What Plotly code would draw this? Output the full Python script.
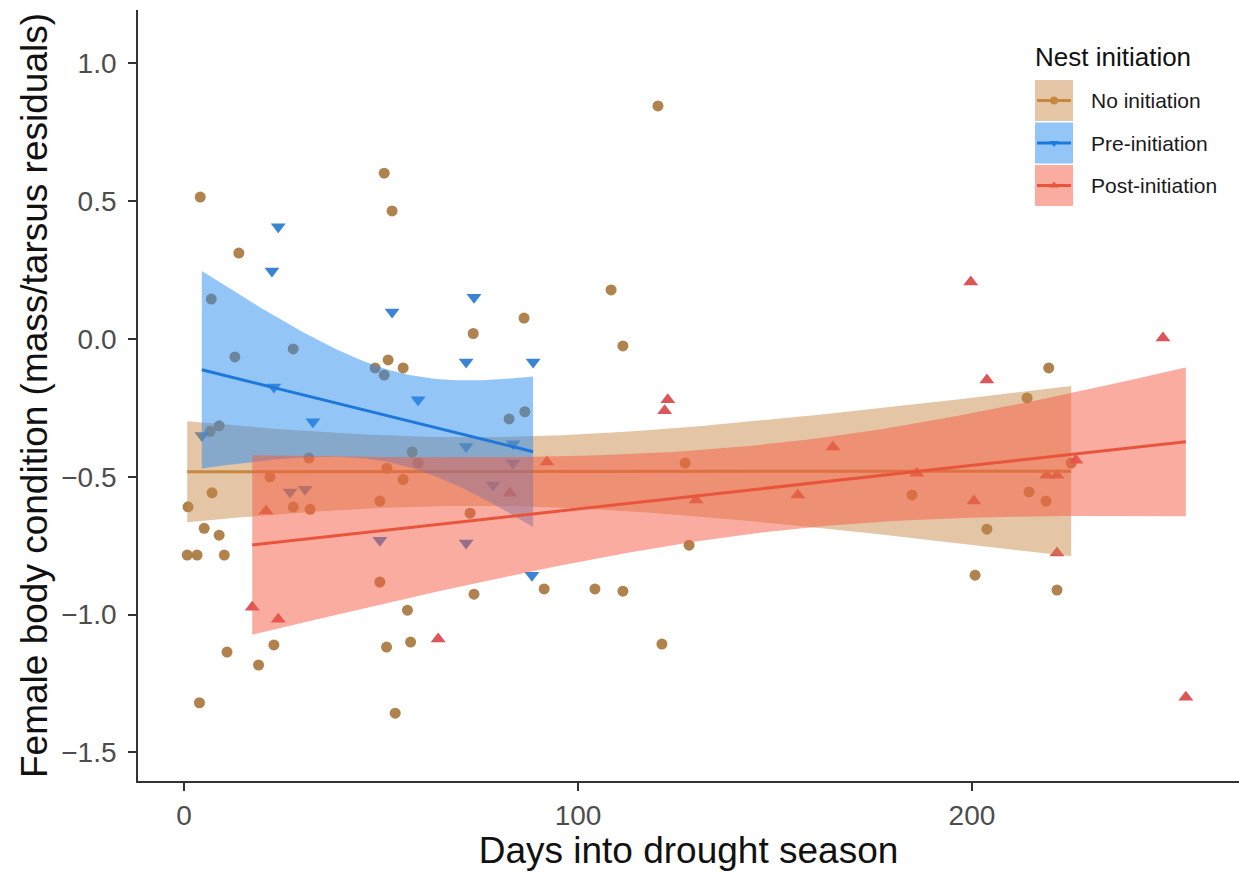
import numpy as np
import plotly.graph_objects as go

# ---------------- data ----------------
group_names = ["No initiation", "Pre-initiation", "Post-initiation"]

no_x = [120.3, 4.1, 13.9, 50.8, 52.8, 6.9, 12.9, 27.7, 48.5, 51.8, 55.6, 50.8, 73.4, 108.4,
        111.4, 86.3, 82.5, 86.5, 57.9, 59.4, 6.6, 8.9, 31.7, 21.8, 51.5, 55.6, 7.1, 1.0,
        27.7, 32.0, 49.7, 5.1, 8.9, 0.8, 3.3, 10.2, 49.7, 56.7, 10.9, 18.9, 22.8, 51.4,
        57.5, 3.9, 53.6, 72.6, 73.6, 91.4, 104.3, 111.4, 121.3, 127.2, 128.2, 219.5,
        214.0, 184.8, 203.8, 214.5, 218.8, 200.8, 221.6, 225.2]
no_y = [0.846, 0.515, 0.312, 0.602, 0.465, 0.145, -0.065, -0.036, -0.105, -0.076, -0.105,
        -0.131, 0.02, 0.178, -0.025, 0.076, -0.29, -0.264, -0.41, -0.45, -0.335, -0.315,
        -0.432, -0.50, -0.469, -0.51, -0.558, -0.609, -0.61, -0.618, -0.588, -0.687, -0.712,
        -0.784, -0.784, -0.784, -0.882, -0.984, -1.136, -1.183, -1.11, -1.118, -1.10, -1.32,
        -1.358, -0.632, -0.926, -0.907, -0.907, -0.915, -1.107, -0.45, -0.748, -0.105,
        -0.214, -0.566, -0.69, -0.555, -0.588, -0.857, -0.911, -0.45]

pre_x = [4.5, 23.9, 22.3, 52.8, 22.8, 32.7, 59.4, 73.6, 71.6, 88.6, 26.9, 30.7, 49.7, 78.4,
         83.5, 71.6, 71.6, 83.5, 88.3]
pre_y = [-0.35, 0.407, 0.247, 0.098, -0.174, -0.30, -0.22, 0.152, -0.083, -0.083, -0.555,
         -0.545, -0.73, -0.53, -0.45, -0.74, -0.39, -0.38, -0.857]

post_x = [17.3, 23.9, 20.8, 92.1, 64.5, 130.0, 155.8, 122.8, 122.0, 82.7, 199.7, 248.5,
          203.8, 164.7, 186.0, 200.5, 219.0, 221.6, 226.4, 221.6, 254.3]
post_y = [-0.973, -1.017, -0.624, -0.446, -1.089, -0.584, -0.566, -0.22, -0.26, -0.56, 0.207,
          0.004, -0.149, -0.392, -0.487, -0.588, -0.494, -0.494, -0.44, -0.777, -1.30]

x_ticks = [0, 100, 200]
y_ticks = [-1.5, -1.0, -0.5, 0.0, 0.5, 1.0]

# ---------------- styles ----------------
pt_colors = ["#A8773F", "#2A7AD0", "#D9474A"]
line_colors = ["#C88741", "#1E78DC", "#E8553A"]
band_colors = ["rgba(198,136,70,0.48)", "rgba(40,140,240,0.5)", "rgba(245,89,65,0.5)"]
symbols = ["circle", "triangle-down", "triangle-up"]
pt_sizes = [11, 13, 13]
FONT = "Liberation Sans, Arial, Helvetica, sans-serif"


def t_quantile(dof, z=1.959964):
    v = float(dof)
    return (z + (z**3 + z) / (4 * v) + (5 * z**5 + 16 * z**3 + 3 * z) / (96 * v**2)
            + (3 * z**7 + 19 * z**5 + 17 * z**3 - 15 * z) / (384 * v**3))


def lm_band(x, y, n=100):
    x = np.asarray(x, float)
    y = np.asarray(y, float)
    b1, b0 = np.polyfit(x, y, 1)
    xs = np.linspace(x.min(), x.max(), n)
    fit = b0 + b1 * xs
    resid = y - (b0 + b1 * x)
    dof = len(x) - 2
    s = np.sqrt(np.sum(resid**2) / dof)
    sxx = np.sum((x - x.mean())**2)
    se = s * np.sqrt(1.0 / len(x) + (xs - x.mean())**2 / sxx)
    t = t_quantile(dof)
    return xs, fit, fit - t * se, fit + t * se


groups = [(no_x, no_y), (pre_x, pre_y), (post_x, post_y)]

fig = go.Figure()

# points first (bands drawn on top, as in ggplot)
for i, (gx, gy) in enumerate(groups):
    fig.add_trace(go.Scatter(
        x=gx, y=gy, mode="markers", name=group_names[i], showlegend=False,
        marker=dict(symbol=symbols[i], size=pt_sizes[i], color=pt_colors[i],
                    opacity=0.92, line=dict(width=0))))

# ribbons and fitted lines per group
for i, (gx, gy) in enumerate(groups):
    xs, fit, lo, hi = lm_band(gx, gy)
    fig.add_trace(go.Scatter(
        x=np.concatenate([xs, xs[::-1]]), y=np.concatenate([hi, lo[::-1]]),
        mode="lines", fill="toself", fillcolor=band_colors[i], line=dict(width=0),
        hoverinfo="skip", showlegend=False))
    fig.add_trace(go.Scatter(
        x=xs, y=fit, mode="lines", line=dict(color=line_colors[i], width=3),
        showlegend=False))

# ---------------- custom legend (pixel overlay axes) ----------------
L, R, T, B = 138, 1239, 10, 781
key_x0, key_x1 = 1035, 1073
key_tops = [80, 122.5, 165]
key_h = 41
shapes = []
for i in range(3):
    y0 = key_tops[i]
    yc = y0 + key_h / 2
    shapes.append(dict(type="rect", xref="x2", yref="y2", x0=key_x0, x1=key_x1,
                       y0=y0, y1=y0 + key_h, fillcolor=band_colors[i], line=dict(width=0)))
    shapes.append(dict(type="line", xref="x2", yref="y2", x0=key_x0 + 2, x1=key_x1 - 2,
                       y0=yc, y1=yc, line=dict(color=line_colors[i], width=3)))
fig.add_trace(go.Scatter(
    x=[(key_x0 + key_x1) / 2] * 3, y=[t + key_h / 2 for t in key_tops], xaxis="x2", yaxis="y2",
    mode="markers", showlegend=False, hoverinfo="skip",
    marker=dict(symbol=symbols, size=8, color=line_colors)))

annotations = [dict(x=1033, y=57, xref="x2", yref="y2", text="Nest initiation",
                    showarrow=False, xanchor="left", yanchor="middle",
                    font=dict(family=FONT, size=26, color="#111111"))]
for i in range(3):
    annotations.append(dict(x=1089, y=key_tops[i] + key_h / 2, xref="x2", yref="y2",
                            text=group_names[i], showarrow=False, xanchor="left",
                            yanchor="middle", font=dict(family=FONT, size=21, color="#1a1a1a")))

fig.update_layout(
    width=1239, height=877,
    margin=dict(l=L, r=1239 - R, t=T, b=877 - B, autoexpand=False),
    paper_bgcolor="white", plot_bgcolor="white",
    font=dict(family=FONT),
    showlegend=False,
    shapes=shapes, annotations=annotations,
    xaxis=dict(range=[-11.7, 267.8], tickvals=x_ticks, ticktext=[str(v) for v in x_ticks],
               showgrid=False, zeroline=False, showline=True, linecolor="#333333",
               linewidth=1.8, ticks="outside", ticklen=8, tickwidth=1.8, tickcolor="#333333",
               tickfont=dict(size=28, color="#4D4D4D", family=FONT),
               title=dict(text="Days into drought season", standoff=6,
                          font=dict(size=37, color="#111111", family=FONT))),
    yaxis=dict(range=[-1.604, 1.194], tickvals=y_ticks, tickformat=".1f",
               showgrid=False, zeroline=False, showline=True, linecolor="#333333",
               linewidth=1.8, ticks="outside", ticklen=8, tickwidth=1.8, tickcolor="#333333",
               tickfont=dict(size=28, color="#4D4D4D", family=FONT), ticklabelstandoff=6,
               title=dict(text="Female body condition (mass/tarsus residuals)", standoff=2,
                          font=dict(size=37, color="#111111", family=FONT))),
    xaxis2=dict(overlaying="x", range=[L, R], visible=False, fixedrange=True, anchor="y2"),
    yaxis2=dict(overlaying="y", range=[B, T], visible=False, fixedrange=True, anchor="x2"),
)

fig.write_html("out.html")
